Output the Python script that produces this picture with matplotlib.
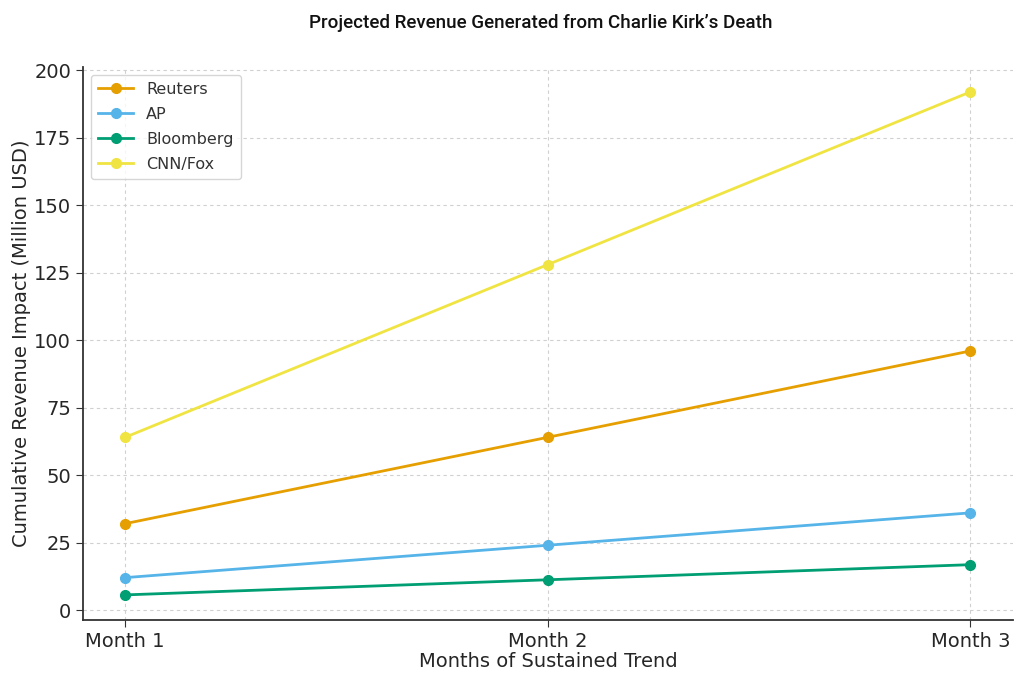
import matplotlib
matplotlib.use("Agg")
import matplotlib.pyplot as plt

months = ["Month 1", "Month 2", "Month 3"]
reuters = [32, 64, 96]
ap = [12, 24, 36]
bloomberg = [5.6, 11.2, 16.8]
cnn_fox = [64, 128, 192]

series = [
    ("Reuters", reuters, "#E69F00"),
    ("AP", ap, "#56B4E9"),
    ("Bloomberg", bloomberg, "#009E73"),
    ("CNN/Fox", cnn_fox, "#F0E442"),
]

plt.rcParams["font.family"] = ["DejaVu Sans"]
text_color = "#262626"

fig = plt.figure(figsize=(10.24, 6.84), dpi=100)
ax = fig.add_axes([0.081, 0.0935, 0.908, 0.809])

for name, vals, color in series:
    ax.plot(months, vals, marker="o", color=color, lw=2, ms=7, label=name)

ax.grid(True, linestyle=(0, (3, 3)), color="#d0d0d0", lw=0.8)
ax.spines["top"].set_visible(False)
ax.spines["right"].set_visible(False)
for s in ["left", "bottom"]:
    ax.spines[s].set_color("#333333")
    ax.spines[s].set_linewidth(1.3)
ax.tick_params(labelsize=14, colors="#333333", labelcolor=text_color, length=5)
ax.set_yticks([0, 25, 50, 75, 100, 125, 150, 175, 200])

ax.set_xlabel("Months of Sustained Trend", fontsize=14, color=text_color, labelpad=1)
ax.set_ylabel("Cumulative Revenue Impact (Million USD)", fontsize=14, color=text_color, labelpad=2)
fig.text(0.528, 0.966, "Projected Revenue Generated from Charlie Kirk\u2019s Death",
         ha="center", va="center", fontsize=13.5, fontweight="medium",
         family=["Roboto", "DejaVu Sans"], color="#111111")

leg = ax.legend(loc="upper left", fontsize=11.5, frameon=True, fancybox=True,
                borderpad=0.45, labelspacing=0.62, handlelength=2.2)
leg.get_frame().set_edgecolor("#cccccc")
for t in leg.get_texts():
    t.set_color("#333333")

fig.savefig("out.png", dpi=100)
